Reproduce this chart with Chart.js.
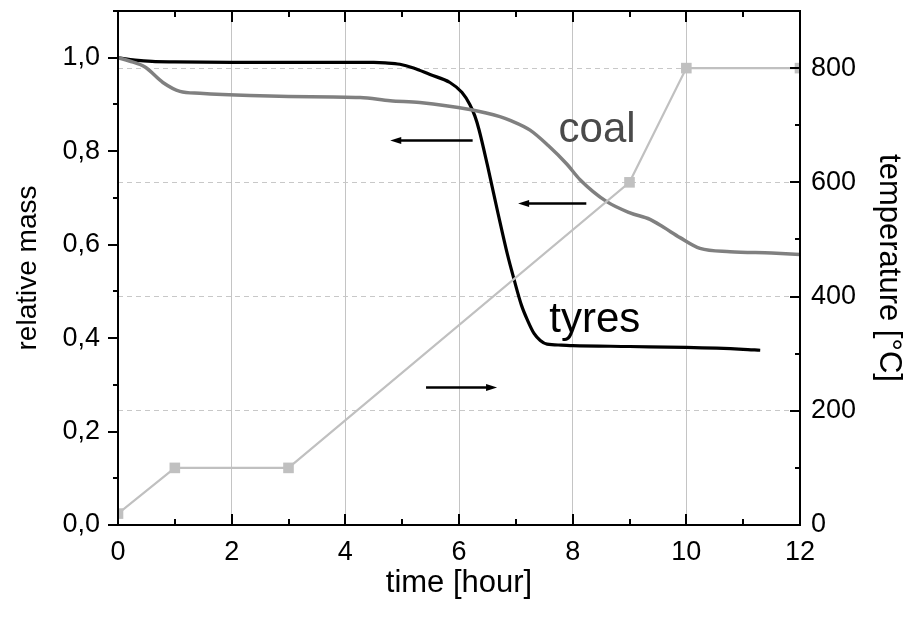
<!DOCTYPE html>
<html lang="en">
  <head>
    <meta charset="utf-8" />
    <title>relative mass vs time</title>
    <style>
      * {
        margin: 0;
        padding: 0;
      }
      body {
        background: #fff;
      }
      .chartBox {
        width: 907px;
        height: 619px;
      }
    </style>
  </head>
  <body>
    <div class="chartBox">
      <canvas id="myChart" width="907" height="619"></canvas>
    </div>

    <script src="https://cdn.jsdelivr.net/npm/chart.js"></script>

    <script>
      // tyres: relative mass
      const tyresTime = [0, 0.3, 0.6, 1, 2, 3, 4, 4.5, 4.7, 4.96, 5.2, 5.49, 5.84, 6.05, 6.19, 6.28, 6.35, 6.5, 6.69, 6.85, 6.97, 7.1, 7.21, 7.32, 7.43, 7.55, 7.8, 8, 9, 10, 11, 11.3];
      const tyresMass = [1.0, 0.995, 0.992, 0.991, 0.99, 0.99, 0.99, 0.99, 0.989, 0.986, 0.978, 0.964, 0.947, 0.926, 0.9, 0.875, 0.847, 0.77, 0.665, 0.58, 0.525, 0.47, 0.437, 0.41, 0.395, 0.387, 0.385, 0.384, 0.382, 0.38, 0.376, 0.374];

      // coal: relative mass
      const coalTime = [0, 0.2, 0.475, 0.79, 1.09, 1.44, 2.32, 3, 4.26, 4.79, 5.31, 6.19, 6.72, 6.9, 7.25, 7.57, 7.9, 8.13, 8.6, 9.01, 9.36, 9.6, 9.89, 10.24, 10.77, 11.5, 12];
      const coalMass = [1.0, 0.993, 0.98, 0.947, 0.928, 0.924, 0.919, 0.917, 0.915, 0.908, 0.904, 0.889, 0.874, 0.866, 0.845, 0.812, 0.772, 0.739, 0.692, 0.668, 0.654, 0.637, 0.615, 0.592, 0.585, 0.582, 0.579];

      // furnace temperature program
      const tempTime = [0, 1, 3, 9, 10, 12];
      const tempValue = [20, 100, 100, 600, 800, 800];

      const xTicks = [0, 2, 4, 6, 8, 10, 12];
      const massTicks = [0, 0.2, 0.4, 0.6, 0.8, 1.0];
      const tempTicks = [0, 200, 400, 600, 800];

      const FONT = "'Liberation Sans', Arial, sans-serif";

      const toPoints = (xs, ys) => xs.map((x, i) => ({ x: x, y: ys[i] }));

      // fixed axis sizes, no extra label padding
      const fixSize = (w, h) => (s) => {
        if (w !== null) s.width = w;
        if (h !== null) s.height = h;
        s.paddingTop = 0;
        s.paddingBottom = 0;
        s.paddingLeft = 0;
        s.paddingRight = 0;
      };

      // frame, inside/outside tick marks, arrows and series labels
      const decorations = {
        id: "decorations",
        afterDatasetsDraw(chart) {
          const { ctx, chartArea: { top, bottom, left, right }, scales } = chart;
          const x = scales.x, ym = scales.y, yt = scales.y2;
          ctx.save();
          ctx.strokeStyle = "#000";
          ctx.lineWidth = 2;
          ctx.strokeRect(left, top, right - left, bottom - top);

          ctx.beginPath();
          // x ticks bottom and top, pointing inside
          for (let t = 0; t <= 12; t += 1) {
            const px = Math.round(x.getPixelForValue(t));
            const len = t % 2 === 0 ? 11 : 6;
            ctx.moveTo(px, bottom); ctx.lineTo(px, bottom - len);
            ctx.moveTo(px, top); ctx.lineTo(px, top + len);
          }
          // left mass ticks, pointing outside
          for (let i = 0; i <= 11; i++) {
            const py = Math.round(ym.getPixelForValue(i / 10));
            const len = i % 2 === 0 ? 10 : 5;
            ctx.moveTo(left, py); ctx.lineTo(left - len, py);
          }
          // right temperature ticks, pointing inside
          for (let v = 0; v <= 900; v += 100) {
            const py = Math.round(yt.getPixelForValue(v));
            const len = v % 200 === 0 ? 10 : 5;
            ctx.moveTo(right, py); ctx.lineTo(right - len, py);
          }
          ctx.stroke();

          // arrows (time, mass coordinates)
          const arrow = (t0, t1, m) => {
            const x0 = x.getPixelForValue(t0), x1 = x.getPixelForValue(t1);
            const py = ym.getPixelForValue(m);
            const dir = Math.sign(x1 - x0);
            ctx.lineWidth = 2.5;
            ctx.beginPath();
            ctx.moveTo(x0, py); ctx.lineTo(x1 - dir * 8, py);
            ctx.stroke();
            ctx.beginPath();
            ctx.moveTo(x1, py);
            ctx.lineTo(x1 - dir * 11, py - 3.5);
            ctx.lineTo(x1 - dir * 11, py + 3.5);
            ctx.closePath();
            ctx.fill();
          };
          ctx.fillStyle = "#000";
          arrow(6.24, 4.79, 0.823);
          arrow(8.24, 7.04, 0.688);
          arrow(5.42, 6.67, 0.294);

          ctx.font = `42px ${FONT}`;
          ctx.textAlign = "center";
          ctx.textBaseline = "middle";
          ctx.fillStyle = "#4a4a4a";
          ctx.fillText("coal", x.getPixelForValue(8.43), ym.getPixelForValue(0.845));
          ctx.fillStyle = "#000";
          ctx.fillText("tyres", x.getPixelForValue(8.39), ym.getPixelForValue(0.437));
          ctx.restore();
        },
      };

      const data = {
        datasets: [
          {
            label: "temperature",
            data: toPoints(tempTime, tempValue),
            yAxisID: "y2",
            borderColor: "#c0c0c0",
            backgroundColor: "#c0c0c0",
            borderWidth: 2.2,
            pointStyle: "rect",
            pointRadius: 7.5,
            pointBorderWidth: 0,
            tension: 0,
            order: 0,
          },
          {
            label: "coal",
            data: toPoints(coalTime, coalMass),
            yAxisID: "y",
            borderColor: "#808080",
            borderWidth: 3.5,
            pointRadius: 0,
            cubicInterpolationMode: "monotone",
            order: 1,
          },
          {
            label: "tyres",
            data: toPoints(tyresTime, tyresMass),
            yAxisID: "y",
            borderColor: "#000",
            borderWidth: 3.2,
            pointRadius: 0,
            cubicInterpolationMode: "monotone",
            order: 2,
          },
        ],
      };

      const config = {
        type: "line",
        data: data,
        options: {
          responsive: false,
          animation: false,
          layout: { padding: { top: 11, right: 0, left: 0, bottom: 0 } },
          plugins: {
            legend: { display: false },
            tooltip: { enabled: false },
          },
          scales: {
            x: {
              type: "linear",
              min: 0,
              max: 12,
              afterFit: fixSize(null, 94),
              afterBuildTicks: (s) => { s.ticks = xTicks.map((v) => ({ value: v })); },
              grid: { color: "#c4c4c4", lineWidth: 1, drawTicks: false },
              border: { display: false },
              ticks: {
                padding: 11,
                color: "#000",
                font: { family: FONT, size: 27 },
                maxRotation: 0,
              },
              title: {
                display: true,
                text: "time [hour]",
                color: "#000",
                font: { family: FONT, size: 31 },
                padding: { top: 17, bottom: 17 },
              },
            },
            y: {
              position: "left",
              min: 0,
              max: 1.1,
              afterFit: fixSize(118, null),
              afterBuildTicks: (s) => { s.ticks = massTicks.map((v) => ({ value: v })); },
              grid: { display: false, drawTicks: false },
              border: { display: false },
              ticks: {
                padding: 18,
                color: "#000",
                font: { family: FONT, size: 27 },
                callback: (v) => v.toFixed(1).replace(".", ","),
              },
              title: {
                display: true,
                text: "relative mass",
                color: "#000",
                font: { family: FONT, size: 28 },
                padding: { top: 11, bottom: 11 },
              },
            },
            y2: {
              position: "right",
              min: 0,
              max: 900,
              afterFit: fixSize(107, null),
              afterBuildTicks: (s) => { s.ticks = tempTicks.map((v) => ({ value: v })); },
              grid: { color: "#c8c8c8", lineWidth: 1, drawTicks: false },
              border: { display: false, dash: [5, 4] },
              ticks: {
                padding: 11,
                color: "#000",
                font: { family: FONT, size: 27 },
              },
              title: {
                display: true,
                text: "temperature [°C]",
                color: "#000",
                font: { family: FONT, size: 31 },
                padding: { top: 0, bottom: 0 },
              },
            },
          },
        },
        plugins: [decorations],
      };

      const myChart = new Chart(document.getElementById("myChart"), config);
    </script>
  </body>
</html>
